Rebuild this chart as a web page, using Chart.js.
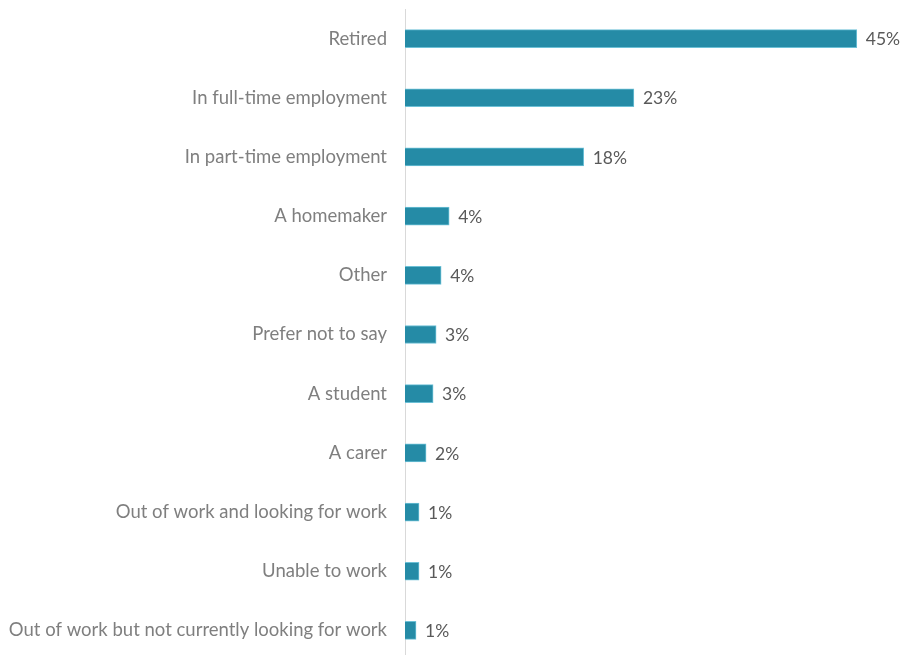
<!DOCTYPE html>
<html>
<head>
<meta charset="utf-8">
<script src="https://cdn.jsdelivr.net/npm/chart.js@4"></script>
<style>
  html, body { margin: 0; padding: 0; background: #fff; overflow: hidden; }
  #wrap { width: 909px; height: 655px; overflow: hidden; }
  #wrap canvas { display: block; }
</style>
</head>
<body>
<div id="wrap"><canvas id="statusChart" width="909" height="661"></canvas></div>
<script>
const categories = [
    'Retired',
    'In full-time employment',
    'In part-time employment',
    'A homemaker',
    'Other',
    'Prefer not to say',
    'A student',
    'A carer',
    'Out of work and looking for work',
    'Unable to work',
    'Out of work but not currently looking for work'
];
// share of respondents, percent
const shares = [45.0, 22.8, 17.8, 4.4, 3.6, 3.1, 2.8, 2.1, 1.4, 1.4, 1.1];

const BAR_COLOR = '#258ba6';
const LABEL_FONT = 'Lato, "Open Sans", sans-serif';

// writes the rounded percentage just past the end of each bar
const valueLabels = {
    id: 'valueLabels',
    afterDatasetsDraw(chart) {
        const ctx = chart.ctx;
        const meta = chart.getDatasetMeta(0);
        ctx.save();
        ctx.font = '17.5px ' + LABEL_FONT;
        ctx.fillStyle = '#595959';
        ctx.textAlign = 'left';
        ctx.textBaseline = 'middle';
        meta.data.forEach((bar, i) => {
            const v = chart.data.datasets[0].data[i];
            ctx.fillText(Math.round(v) + '%', bar.x + 9, bar.y + 1);
        });
        ctx.restore();
    }
};

const ctx = document.getElementById('statusChart').getContext('2d');
new Chart(ctx, {
    type: 'bar',
    data: {
        labels: categories,
        datasets: [{
            data: shares,
            backgroundColor: BAR_COLOR,
            borderColor: '#6cc0d6',
            borderWidth: 1,
            barThickness: 18
        }]
    },
    options: {
        indexAxis: 'y',
        responsive: false,
        animation: false,
        layout: { padding: { top: 9, bottom: 1, right: 2, left: 0 } },
        plugins: {
            legend: { display: false },
            tooltip: { enabled: false }
        },
        scales: {
            x: {
                display: false,
                min: 0,
                max: 50
            },
            y: {
                afterFit(scale) {
                    scale.width = 405;
                    // no extra room for half-height end labels
                    scale.paddingTop = 0;
                    scale.paddingBottom = 0;
                },
                border: { display: true, color: '#d9d9d9', width: 1 },
                grid: { display: false, drawTicks: false },
                ticks: {
                    padding: 18,
                    color: '#7f7f7f',
                    font: { family: LABEL_FONT, size: 18.5 }
                }
            }
        }
    },
    plugins: [valueLabels]
});
</script>
</body>
</html>
